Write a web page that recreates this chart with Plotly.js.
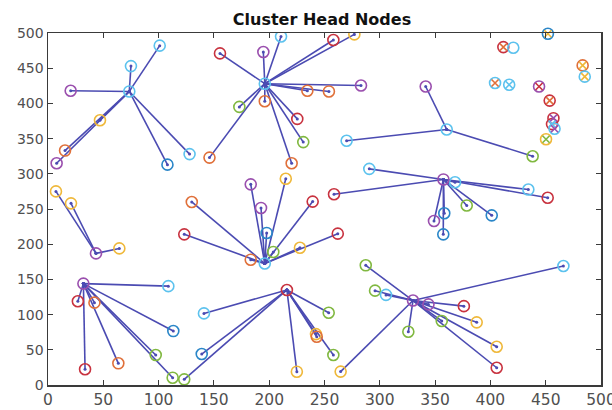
<!DOCTYPE html>
<html>
<head>
<meta charset="utf-8">
<script src="https://cdn.plot.ly/plotly-3.0.1.min.js"></script>
<style>html,body{margin:0;padding:0;background:#fff;}#chart{width:612px;height:410px;}</style>
</head>
<body>
<div id="chart"></div>
<script>
// ---- data ----
// cluster heads
const headX = [73.5, 196, 196, 43.4, 357.5, 360.5, 32, 216, 330];
const headY = [417, 428, 172.6, 187, 292, 363, 144, 135, 120];
const headColor = [5, 5, 5, 3, 3, 5, 3, 6, 3];

// member nodes: coordinates, the head they report to, colour index
const nodeX = [
  101, 75, 20.5, 47, 15.4, 7.8, 108, 128,
  210.7, 258, 277, 155.5, 194.7, 283, 234.5, 254, 196, 173, 225.4, 230.8, 146, 220.3,
  183.3, 215, 130, 192.6, 239.3, 123.2, 197.7, 262, 203.7, 227.8, 183.3,
  7.2, 20.8, 64.5,
  290.5, 258.6, 368, 434.3, 451.8, 378.6, 401.2, 358.3, 349, 357.4,
  341.5, 438.2, 270,
  108.8, 27, 42, 113.3, 97.4, 63.6, 33.5, 112.7,
  141, 139, 123.2, 253.8, 242.3, 243, 258, 225,
  287.3, 295.7, 305.6, 344, 466, 376, 356, 387.6, 325.8, 405.7, 405.7, 264.6
];
const nodeY = [
  482, 453, 418, 376, 333, 315, 313, 328,
  495, 490, 498, 471, 473, 425.5, 418, 417, 403, 395, 378, 345, 323, 315,
  285, 293, 260, 251.5, 260.5, 214, 216, 215, 189, 195, 178,
  275, 258, 194,
  307, 271, 288, 277.6, 266, 255, 241, 244, 233, 214,
  424, 325, 347,
  140.4, 119, 117, 76.6, 42.6, 30.8, 22.3, 10.4,
  101.7, 44, 8, 102.6, 72.3, 68.5, 42.6, 18.9,
  170, 134, 128, 114.5, 169, 112, 91, 89, 75.6, 54.3, 24.5, 19
];
const nodeHead = [
  0,0,0,0,0,0,0,0,
  1,1,1,1,1,1,1,1,1,1,1,1,1,1,
  2,2,2,2,2,2,2,2,2,2,2,
  3,3,3,
  4,4,4,4,4,4,4,4,4,4,
  5,5,5,
  6,6,6,6,6,6,6,6,
  7,7,7,7,7,7,7,7,
  8,8,8,8,8,8,8,8,8,8,8,8
];
const nodeColor = [
  5,5,3,2,1,3,0,5,
  5,6,2,6,3,3,1,1,1,4,6,4,1,1,
  3,2,1,3,6,6,0,6,4,2,1,
  2,2,2,
  5,6,5,5,6,4,0,0,3,0,
  3,4,5,
  5,6,1,0,4,1,6,4,
  5,0,4,4,2,1,4,2,
  4,4,5,3,5,6,4,2,4,2,6,2
];

// dead (unconnected) nodes, circle colour and cross colour
const deadX = [452, 411.7, 420.7, 483.4, 485.3, 404.2, 417, 444, 453.6, 457, 455.7, 458, 450.3];
const deadY = [499, 480, 479, 454, 438, 429, 426.5, 424, 404, 379, 370.6, 364, 349];
const deadColor = [0, 6, 5, 1, 5, 5, 5, 3, 6, 6, 6, 5, 2];
const deadCross = [2, 1, -1, 2, 2, 1, 5, 6, 1, 3, 5, 3, 4];

const xTicks = [0, 50, 100, 150, 200, 250, 300, 350, 400, 450, 500];
const yTicks = [0, 50, 100, 150, 200, 250, 300, 350, 400, 450, 500];
const chartTitle = 'Cluster Head Nodes';

// ---- style ----
const palette = ['#2a86c8', '#e0703a', '#efb83a', '#9a4fae', '#80b840', '#5cc2ee', '#c8323f'];
const lineColor = '#4b4bb2';
const font = 'DejaVu Sans, Verdana, sans-serif';

// ---- build traces ----
const lx = [], ly = [];
for (let i = 0; i < nodeX.length; i++) {
  const h = nodeHead[i];
  lx.push(headX[h], nodeX[i], null);
  ly.push(headY[h], nodeY[i], null);
}

const crossIdx = deadCross.map((c, i) => i).filter(i => deadCross[i] >= 0);

const traces = [
  {
    x: lx, y: ly, type: 'scatter', mode: 'lines+markers',
    line: {color: lineColor, width: 1.6},
    marker: {color: lineColor, size: 3},
    hoverinfo: 'skip', showlegend: false
  },
  {
    x: nodeX, y: nodeY, type: 'scatter', mode: 'markers',
    marker: {symbol: 'circle-open', size: 11, color: nodeColor.map(c => palette[c]), line: {width: 1.6}},
    showlegend: false
  },
  {
    x: headX, y: headY, type: 'scatter', mode: 'markers',
    marker: {symbol: 'circle-open', size: 11, color: headColor.map(c => palette[c]), line: {width: 1.6}},
    showlegend: false
  },
  {
    x: deadX, y: deadY, type: 'scatter', mode: 'markers',
    marker: {symbol: 'circle-open', size: 11, color: deadColor.map(c => palette[c]), line: {width: 1.6}},
    showlegend: false, cliponaxis: false
  },
  {
    x: crossIdx.map(i => deadX[i]), y: crossIdx.map(i => deadY[i]), type: 'scatter', mode: 'markers',
    marker: {symbol: 'x-thin-open', size: 7, color: crossIdx.map(i => palette[deadCross[i]]), line: {width: 1.6, color: crossIdx.map(i => palette[deadCross[i]])}},
    showlegend: false, cliponaxis: false
  }
];

const axisCommon = {
  showgrid: false, zeroline: false, showline: true, mirror: 'ticks',
  linecolor: '#3a3a3a', linewidth: 1.5,
  ticks: 'inside', ticklen: 5, tickwidth: 1, tickcolor: '#3a3a3a',
  ticklabeloverflow: 'allow', automargin: false
};

const layout = {
  width: 612, height: 410,
  margin: {l: 48, r: 11, t: 33, b: 25},
  paper_bgcolor: '#fff', plot_bgcolor: '#fff',
  title: {
    text: '<b>' + chartTitle + '</b>',
    font: {family: font, size: 16, color: '#111'},
    x: 322 / 612, xref: 'container', xanchor: 'center', y: 1 - 19 / 410, yref: 'container', yanchor: 'middle'
  },
  xaxis: Object.assign({}, axisCommon, {
    range: [0, 500], tickvals: xTicks, ticktext: xTicks.map(String),
    tickfont: {family: font, size: 15.5, color: '#505050'}
  }),
  yaxis: Object.assign({}, axisCommon, {
    range: [0, 500], tickvals: yTicks, ticktext: yTicks.map(String),
    tickfont: {family: font, size: 14, color: '#505050'}
  }),
  showlegend: false
};

Plotly.newPlot('chart', traces, layout, {displayModeBar: false, staticPlot: true});
</script>
</body>
</html>
